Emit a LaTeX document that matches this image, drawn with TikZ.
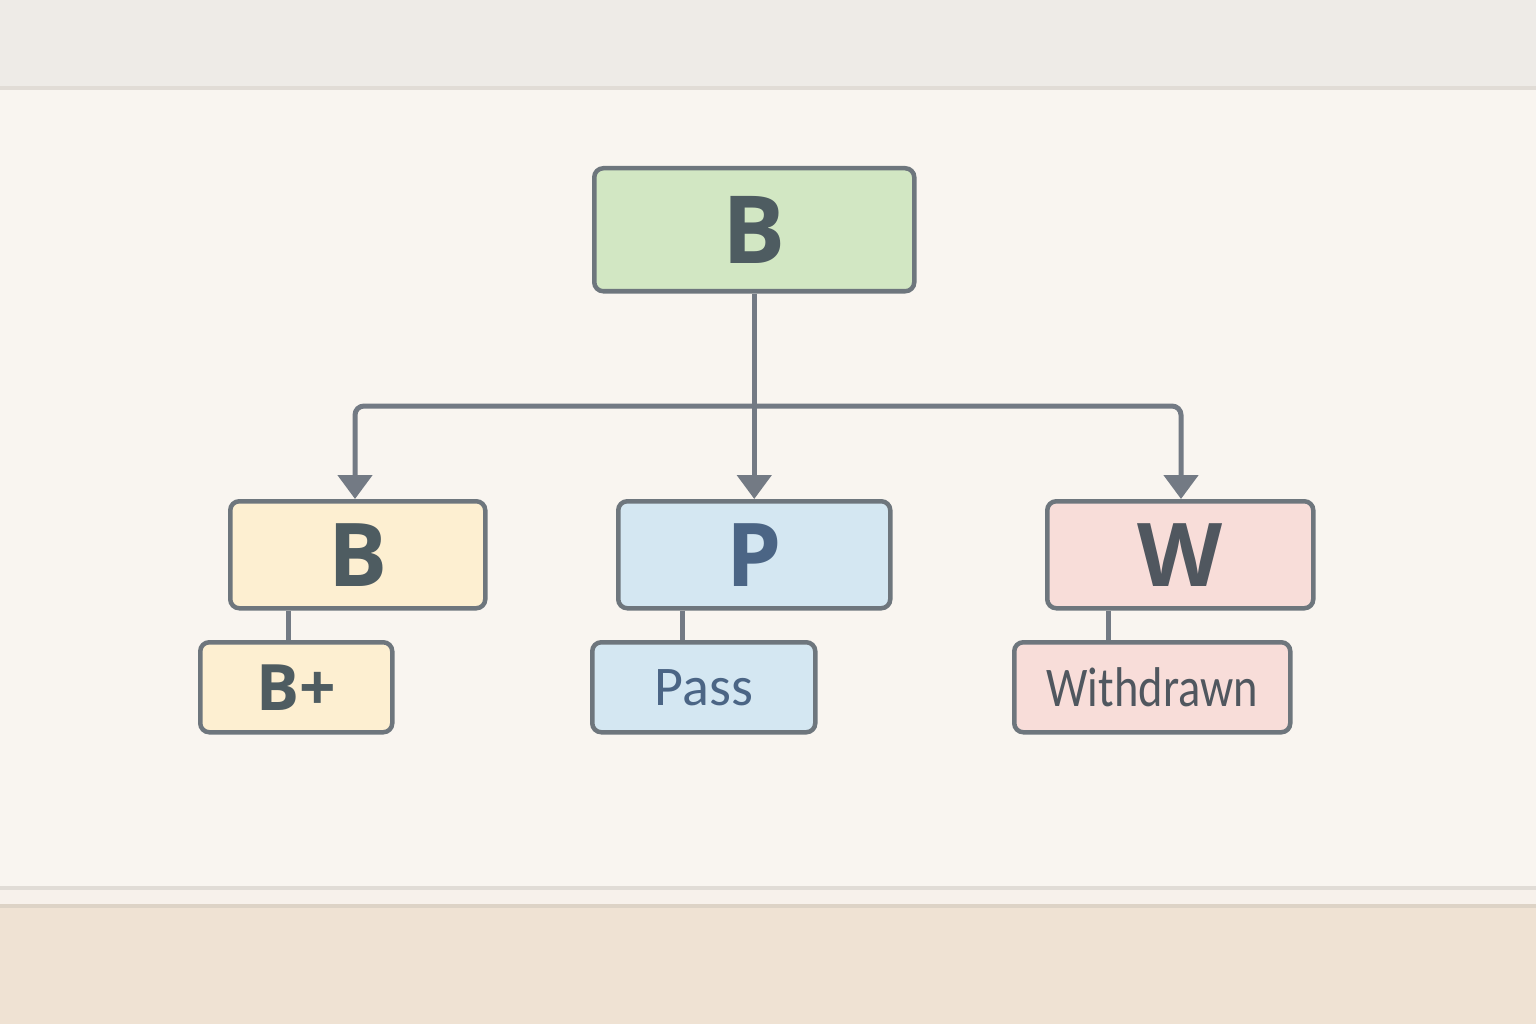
\documentclass[tikz,border=0pt]{standalone}
\usepackage{fontspec}
\setmainfont{Open Sans}
\newfontfamily\handfont{Carlito}
\usetikzlibrary{arrows.meta}
\definecolor{topband}{HTML}{EEEBE7}
\definecolor{wall}{HTML}{F9F5F0}
\definecolor{strip}{HTML}{F7F1EB}
\definecolor{floorc}{HTML}{EFE2D3}
\definecolor{edgeA}{HTML}{E1DCD6}
\definecolor{edgeB}{HTML}{DDD3C6}
\definecolor{stroke}{HTML}{6E767D}
\definecolor{linec}{HTML}{737A84}
\definecolor{green}{HTML}{D2E7C3}
\definecolor{yellow}{HTML}{FDEFD1}
\definecolor{blue}{HTML}{D4E7F2}
\definecolor{pink}{HTML}{F8DDD9}
\definecolor{txtA}{HTML}{4E5C61}
\definecolor{txtP}{HTML}{4B6585}
\definecolor{txtW}{HTML}{50575F}
\begin{document}
\begin{tikzpicture}[x=1pt,y=-1pt,
  box/.style={draw=stroke,line width=4.5pt,rounded corners=9pt,inner sep=0pt,anchor=north west},
  big/.style={font=\bfseries\fontsize{94}{94}\selectfont},
  mid/.style={font=\bfseries\fontsize{88}{88}\selectfont},
  small/.style={font=\bfseries\fontsize{64}{64}\selectfont},
  hand/.style={font=\handfont\fontsize{56}{56}\selectfont},
  conn/.style={draw=linec,line width=5pt},
  arr/.style={conn,-{Triangle[length=24pt,width=34pt]}}]
\useasboundingbox (0,0) rectangle (1536,1024);
% background
\fill[topband] (0,0) rectangle (1536,88);
\fill[edgeA] (0,86) rectangle (1536,90);
\fill[wall] (0,90) rectangle (1536,886);
\fill[edgeA] (0,886) rectangle (1536,890);
\fill[strip] (0,890) rectangle (1536,904);
\fill[edgeB] (0,904) rectangle (1536,908);
\fill[floorc] (0,908) rectangle (1536,1024);
% boxes
\node[box,fill=green,minimum width=320pt,minimum height=123pt,text=txtA,big] (top) at (592,166) {B};
\node[box,fill=yellow,minimum width=255pt,minimum height=107pt,text=txtA,mid] (b) at (228,499) {B};
\node[box,fill=blue,minimum width=272pt,minimum height=107pt,text=txtP,mid] (p) at (616,499) {P};
\node[box,fill=pink,minimum width=266pt,minimum height=107pt,text=txtW,mid] (w) at (1045,499) {W};
\node[box,fill=yellow,minimum width=192pt,minimum height=90pt,text=txtA,small] (bplus) at (198,640) {B+};
\node[box,fill=blue,minimum width=223pt,minimum height=90pt,text=txtP,hand] (pass) at (590,640) {Pass};
\node[box,fill=pink,minimum width=276pt,minimum height=90pt,text=txtW,hand] (withdrawn) at (1012,640) {\scalebox{0.83}[1]{Withdrawn}};
% connectors
\coordinate (bus) at (752,406);
\coordinate (xb) at (355,0);
\coordinate (xw) at (1181,0);
\draw[arr] (top.south) -- (p.north);
\draw[arr,rounded corners=9pt] (bus) -| (b.north -| xb);
\draw[arr,rounded corners=9pt] (bus) -| (w.north -| xw);
\coordinate (c1) at (288,0);
\coordinate (c2) at (682,0);
\coordinate (c3) at (1108,0);
\draw[conn] (b.south -| c1) -- (bplus.north -| c1);
\draw[conn] (p.south -| c2) -- (pass.north -| c2);
\draw[conn] (w.south -| c3) -- (withdrawn.north -| c3);
\end{tikzpicture}
\end{document}
